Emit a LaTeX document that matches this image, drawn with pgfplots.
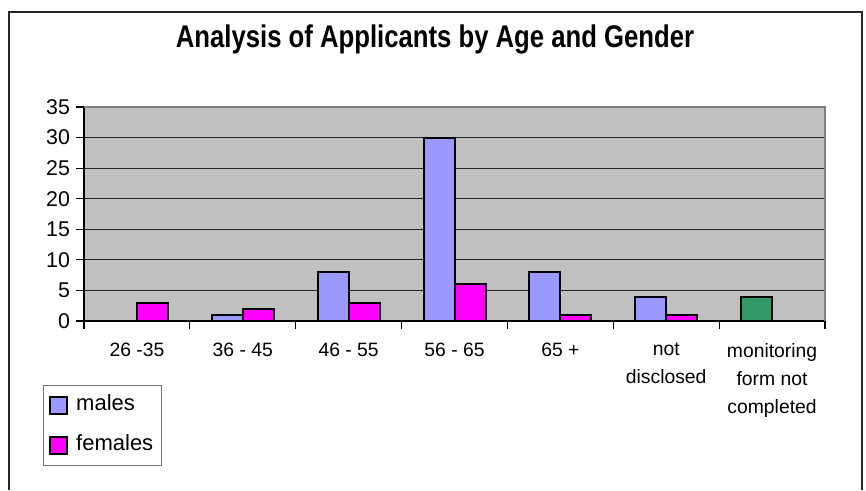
\documentclass[border=0pt]{standalone}
\usepackage{pgfplots}
\pgfplotsset{compat=1.18}
\usepackage{fontspec}
\setmainfont{Liberation Sans}

\definecolor{males}{HTML}{9999FF}
\definecolor{females}{HTML}{FF00FF}
\definecolor{notdone}{HTML}{339966}
\definecolor{plotbg}{HTML}{C0C0C0}

\begin{document}
\begin{tikzpicture}
  % page is 866x490 px at 0.75pt per px
  \useasboundingbox (0,0) rectangle (649.5pt,367.5pt);
  \draw[black!85, line width=1.1pt] (6.75pt,0) -- (6.75pt,358.5pt) -- (646.5pt,358.5pt) -- (646.5pt,0);

  \begin{axis}[
    at={(63pt,126.75pt)}, anchor=south west,
    scale only axis,
    width=555.75pt, height=160.5pt,
    /pgf/number format/assume math mode=true,
    ybar=0pt,
    bar width=23.25pt,
    xmin=-0.5, xmax=6.5,
    ymin=0, ymax=35,
    ytick={0,5,...,35},
    xtick={0,...,6},
    xticklabels={26 -35, 36 - 45, 46 - 55, 56 - 65, 65 +, not\\disclosed, monitoring\\form not\\completed},
    minor xtick={-0.5,0.5,...,6.5},
    axis x line*=bottom, axis y line*=left,
    axis line style={black, line width=1pt},
    tick align=outside,
    major tick length=6pt, minor tick length=6pt,
    x tick style={draw=none},
    minor x tick style={draw=black, line width=0.8pt},
    y tick style={black, line width=0.8pt},
    ymajorgrids,
    major grid style={black!85, line width=0.8pt},
    axis background/.style={fill=plotbg},
    yticklabel style={font=\fontsize{16}{18}\selectfont, xshift=-1pt},
    xticklabel style={font=\fontsize{14.5}{21}\selectfont, align=center, anchor=north, yshift=-7pt},
    title={\scalebox{0.82}[1]{\bfseries\fontsize{23.5}{26}\selectfont Analysis of Applicants by Age and Gender}},
    title style={at={(axis description cs:0.4737,1.243)}, anchor=base},
    legend style={at={(axis description cs:-0.0553,-0.299)}, anchor=north west,
      draw=black!55, line width=0.8pt, fill=white,
      font=\fontsize{16.5}{18}\selectfont,
      inner xsep=4pt, inner ysep=5pt, row sep=10pt,
      nodes={inner sep=2pt, text height=12pt, text depth=4pt},
      /tikz/every odd column/.append style={column sep=4pt}},
    legend cell align=left,
    legend image code/.code={\draw[#1, draw=black, line width=1.5pt] (0pt,-6.5pt) rectangle (13pt,6.5pt);},
    after end axis/.code={\draw[black!50, line width=1.5pt] (rel axis cs:0,1) -- (rel axis cs:1,1) -- (rel axis cs:1,0);},
  ]
    \addplot[fill=males, draw=black, line width=1.5pt, bar shift=-11.625pt] coordinates {
      (1,1) (2,8) (3,30) (4,8) (5,4)
    };
    \addplot[fill=females, draw=black, line width=1.5pt, bar shift=11.625pt] coordinates {
      (0,3) (1,2) (2,3) (3,6) (4,1) (5,1)
    };
    \addplot[fill=notdone, draw=black, line width=1.5pt, bar shift=-11.625pt, forget plot] coordinates {
      (6,4)
    };
    \legend{males, females}
  \end{axis}
\end{tikzpicture}
\end{document}
